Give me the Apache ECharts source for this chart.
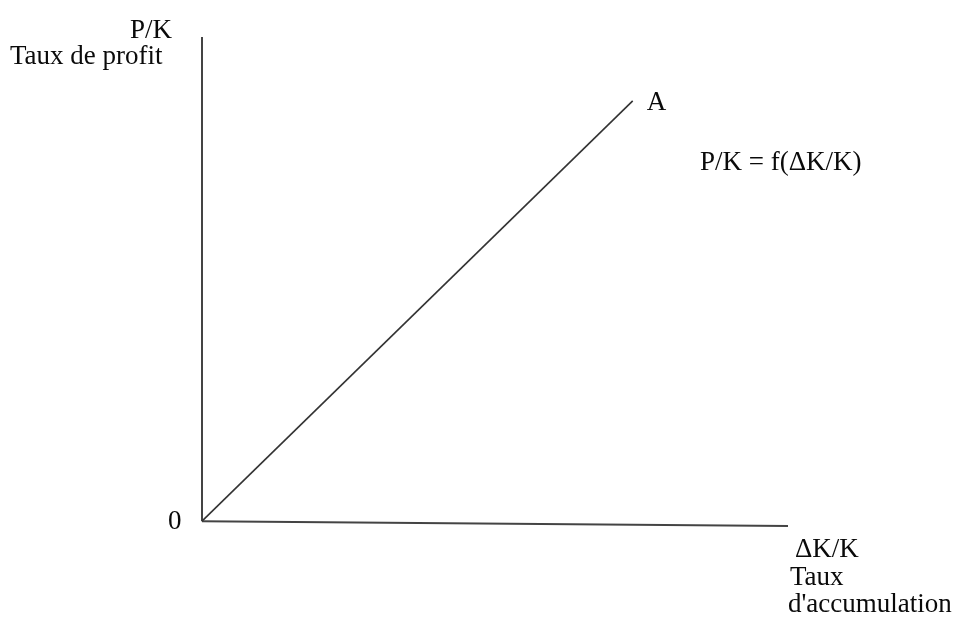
<!DOCTYPE html>
<html>
<head>
<meta charset="utf-8">
<script src="https://cdn.jsdelivr.net/npm/echarts@6/dist/echarts.min.js"></script>
<style>
  html, body { margin: 0; padding: 0; background: #fff; }
  #chart { width: 955px; height: 623px; }
</style>
</head>
<body>
<div id="chart"></div>
<script>
// données de la courbe P/K = f(ΔK/K)
var accumulation = [0, 7.35];
var profit = [0, 8.68];
var endPointLabel = 'A';

// axes tracés à la main (l'axe horizontal penche un peu)
var axisXLine = [[0, 0], [10, -0.1]];
var axisYLine = [[0, 0], [0, 10]];

var serif = '"Liberation Serif", "Times New Roman", serif';
var ink = '#0a0a0a';
var font = '27px ' + serif;

var chart = echarts.init(document.getElementById('chart'));

var lineData = [];
for (var i = 0; i < accumulation.length; i++) {
    lineData.push([accumulation[i], profit[i]]);
}

var bareAxis = {
    type: 'value',
    axisLine: { show: false },
    axisTick: { show: false },
    axisLabel: { show: false },
    splitLine: { show: false }
};

// texte centré verticalement sur y
function txt(x, y, s) {
    return { type: 'text', x: x, y: y, style: { text: s, font: font, fill: ink, verticalAlign: 'middle' } };
}

var option = {
    backgroundColor: '#fff',
    animation: false,
    grid: { left: 202, top: 37, right: 167, bottom: 96 },
    xAxis: echarts.util.merge({ min: 0, max: 10 }, bareAxis),
    yAxis: echarts.util.merge({ min: -0.12, max: 10 }, bareAxis),
    series: [{
        type: 'line',
        data: axisXLine,
        symbol: 'none',
        lineStyle: { color: '#444', width: 2 }
    }, {
        type: 'line',
        data: axisYLine,
        symbol: 'none',
        lineStyle: { color: '#444', width: 2 }
    }, {
        type: 'line',
        data: lineData,
        symbol: 'none',
        lineStyle: { color: '#333', width: 1.6 },
        endLabel: {
            show: true,
            distance: 14,
            offset: [0, 2],
            color: ink,
            fontFamily: serif,
            fontSize: 27,
            formatter: endPointLabel
        }
    }],
    graphic: [
        txt(130, 31, 'P/K'),
        txt(10, 57, 'Taux de profit'),
        txt(168, 522, '0'),
        txt(700, 163, 'P/K = f(ΔK/K)'),
        txt(795, 550, 'ΔK/K'),
        txt(790, 578, 'Taux'),
        txt(788, 605, "d'accumulation")
    ]
};
chart.setOption(option);

window.onresize = function () {
    chart.resize();
};
</script>
</body>
</html>
